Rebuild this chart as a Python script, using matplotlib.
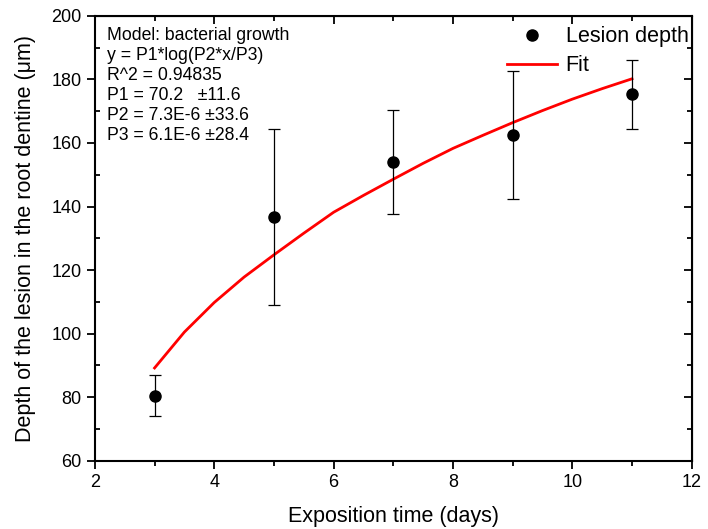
import numpy as np
from matplotlib import pyplot as plt
from matplotlib import rcParams

rcParams['font.family'] = ['Liberation Sans', 'DejaVu Sans']

# measured lesion depth
days = [3, 5, 7, 9, 11]
depth = [80.5, 136.8, 154.0, 162.5, 175.3]
err_lo = [6.5, 27.8, 16.5, 20.0, 11.0]
err_hi = [6.5, 27.7, 16.5, 20.0, 10.7]

# fit curve
fit_x = [3, 3.5, 4, 4.5, 5, 5.5, 6, 6.5, 7, 7.5, 8, 8.5, 9, 9.5, 10, 10.5, 11]
fit_y = [89.2, 100.5, 109.8, 117.8, 124.8, 131.6, 138.2, 143.5, 148.6,
         153.6, 158.3, 162.4, 166.4, 170.2, 173.8, 177.1, 180.2]

info = ("Model: bacterial growth\n"
        "y = P1*log(P2*x/P3)\n"
        "R^2 = 0.94835\n"
        "P1 = 70.2   \u00b111.6\n"
        "P2 = 7.3E-6 \u00b133.6\n"
        "P3 = 6.1E-6 \u00b128.4")

fig = plt.figure(figsize=(7.08, 5.29), dpi=100)
ax = fig.add_axes([0.134, 0.129, 0.843, 0.841])

ax.errorbar(days, depth, yerr=[err_lo, err_hi], fmt='none', ecolor='black',
            elinewidth=0.9, capsize=4.5, capthick=0.9, zorder=3)
ax.plot(days, depth, 'o', color='black', ms=8, label='Lesion depth', zorder=4)
ax.plot(fit_x, fit_y, color='red', lw=2, label='Fit', zorder=2)

ax.set_xlim(2, 12)
ax.set_ylim(60, 200)
ax.set_xticks([2, 4, 6, 8, 10, 12])
ax.set_xticks([3, 5, 7, 9, 11], minor=True)
ax.set_yticks([60, 80, 100, 120, 140, 160, 180, 200])
ax.set_yticks([70, 90, 110, 130, 150, 170, 190], minor=True)

for s in ax.spines.values():
    s.set_linewidth(1.5)

ax.tick_params(which='both', labelsize=13, width=1.3)
ax.tick_params(axis='x', which='major', direction='out', length=6)
ax.tick_params(axis='x', which='minor', direction='out', length=3.5)
ax.tick_params(axis='y', which='major', direction='out', length=6)
ax.tick_params(axis='y', which='minor', direction='in', length=3.5)

# inward ticks on the top and right edges
ax_t = ax.secondary_xaxis('top')
ax_t.set_xticks([2, 4, 6, 8, 10, 12])
ax_t.set_xticks([3, 5, 7, 9, 11], minor=True)
ax_t.tick_params(which='both', direction='in', labeltop=False, width=1.3)
ax_t.tick_params(which='major', length=6)
ax_t.tick_params(which='minor', length=3.5)
ax_r = ax.secondary_yaxis('right')
ax_r.set_yticks([60, 80, 100, 120, 140, 160, 180, 200])
ax_r.set_yticks([70, 90, 110, 130, 150, 170, 190], minor=True)
ax_r.tick_params(which='both', direction='in', labelright=False, width=1.3)
ax_r.tick_params(which='major', length=6)
ax_r.tick_params(which='minor', length=3.5)

ax.set_xlabel('Exposition time (days)', fontsize=15.5, labelpad=11)
ax.set_ylabel('Depth of the lesion in the root dentine (\u03bcm)', fontsize=15.5,
              labelpad=11)

ax.text(0.02, 0.975, info, transform=ax.transAxes, ha='left', va='top',
        fontsize=12.7, linespacing=1.23)

ax.legend(loc='upper right', bbox_to_anchor=(1.0, 0.984), frameon=False,
          fontsize=15.5, handlelength=2.3, handletextpad=0.4,
          borderaxespad=0.0, borderpad=0.15, labelspacing=0.37)

fig.savefig('out.png', dpi=100)
